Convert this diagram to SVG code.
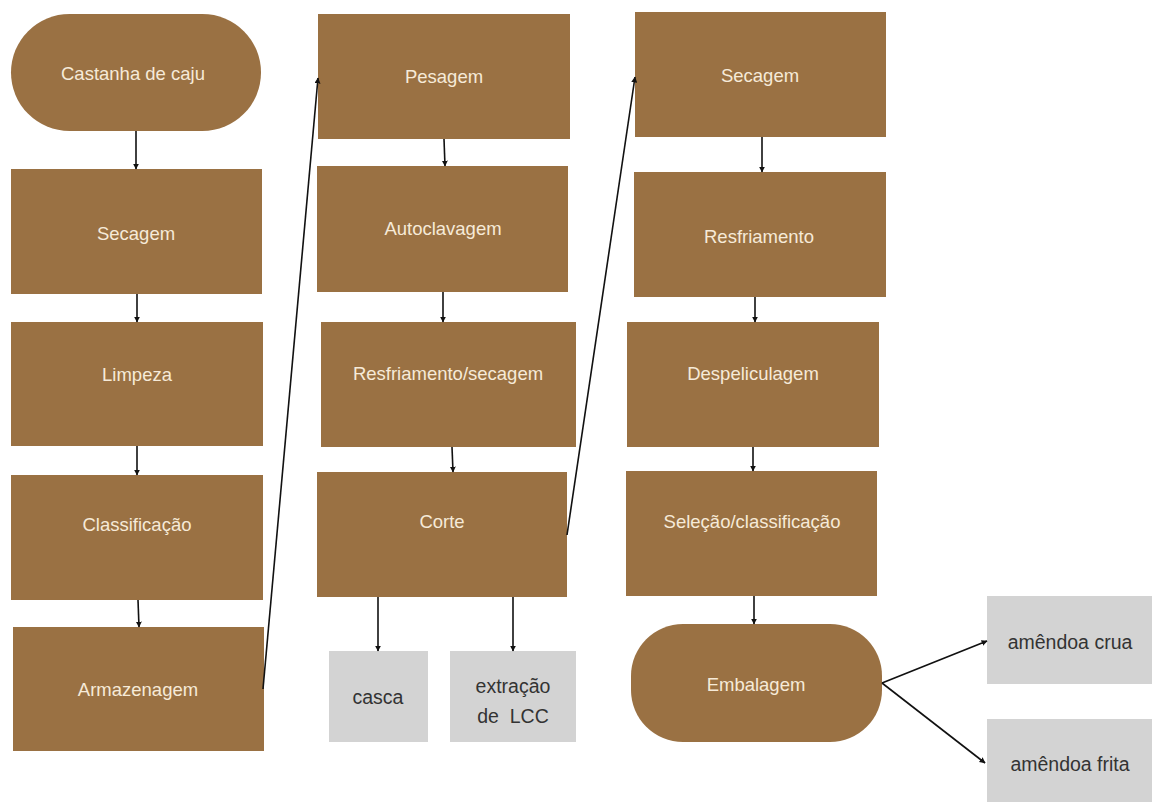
<svg xmlns="http://www.w3.org/2000/svg" width="1152" height="802" viewBox="0 0 1152 802">
<defs>
<marker id="ah" viewBox="0 0 10 10" refX="9" refY="5" markerWidth="6" markerHeight="6" orient="auto" markerUnits="userSpaceOnUse"><path d="M0,0 L10,5 L0,10 z" fill="#111"/></marker>
<style>
.b{fill:#9a7143}
.g{fill:#d3d3d3}
.t{font-family:"Liberation Sans",Arial,sans-serif;font-size:18.5px;fill:#f6ead8;text-anchor:middle;dominant-baseline:central}
.d{font-family:"Liberation Sans",Arial,sans-serif;font-size:19.5px;fill:#333;text-anchor:middle;dominant-baseline:central}
.c{stroke:#111;stroke-width:1.6;fill:none;marker-end:url(#ah)}
</style>
</defs>
<rect width="1152" height="802" fill="#fff"/>
<g id="n1"><rect class="b" x="11" y="14" width="250" height="117" rx="58.5"/><text class="t" x="133" y="73">Castanha de caju</text></g>
<g id="n2"><rect class="b" x="11" y="169" width="251" height="125"/><text class="t" x="136" y="233">Secagem</text></g>
<g id="n3"><rect class="b" x="11" y="322" width="252" height="124"/><text class="t" x="137" y="374">Limpeza</text></g>
<g id="n4"><rect class="b" x="11" y="475" width="252" height="125"/><text class="t" x="137" y="524">Classificação</text></g>
<g id="n5"><rect class="b" x="13" y="627" width="251" height="124"/><text class="t" x="138" y="689">Armazenagem</text></g>
<g id="n6"><rect class="b" x="318" y="14" width="252" height="125"/><text class="t" x="444" y="76">Pesagem</text></g>
<g id="n7"><rect class="b" x="317" y="166" width="251" height="126"/><text class="t" x="443" y="228">Autoclavagem</text></g>
<g id="n8"><rect class="b" x="321" y="322" width="255" height="125"/><text class="t" x="448" y="373">Resfriamento/secagem</text></g>
<g id="n9"><rect class="b" x="317" y="472" width="250" height="125"/><text class="t" x="442" y="521">Corte</text></g>
<g id="n10"><rect class="g" x="329" y="651" width="99" height="91"/><text class="d" x="378" y="697">casca</text></g>
<g id="n11"><rect class="g" x="450" y="651" width="126" height="91"/><text class="d" x="513" y="686">extração</text><text class="d" x="513" y="716">de&#160; LCC</text></g>
<g id="n12"><rect class="b" x="635" y="12" width="251" height="125"/><text class="t" x="760" y="75">Secagem</text></g>
<g id="n13"><rect class="b" x="634" y="172" width="252" height="125"/><text class="t" x="759" y="236">Resfriamento</text></g>
<g id="n14"><rect class="b" x="627" y="322" width="252" height="125"/><text class="t" x="753" y="373">Despeliculagem</text></g>
<g id="n15"><rect class="b" x="626" y="471" width="251" height="125"/><text class="t" x="752" y="521">Seleção/classificação</text></g>
<g id="n16"><rect class="b" x="631" y="624" width="251" height="118" rx="52"/><text class="t" x="756" y="684">Embalagem</text></g>
<g id="n17"><rect class="g" x="987" y="596" width="165" height="88"/><text class="d" x="1070" y="642">amêndoa crua</text></g>
<g id="n18"><rect class="g" x="987" y="719" width="165" height="83"/><text class="d" x="1070" y="764">amêndoa frita</text></g>
<g id="connectors">
<line class="c" x1="136" y1="131" x2="136" y2="169"/>
<line class="c" x1="137" y1="294" x2="137" y2="322"/>
<line class="c" x1="137" y1="446" x2="137" y2="475"/>
<line class="c" x1="138" y1="600" x2="139" y2="627"/>
<line class="c" x1="263" y1="689" x2="318" y2="78"/>
<line class="c" x1="444" y1="139" x2="445" y2="166"/>
<line class="c" x1="443" y1="292" x2="443" y2="322"/>
<line class="c" x1="452" y1="447" x2="453" y2="472"/>
<line class="c" x1="378" y1="597" x2="378" y2="651"/>
<line class="c" x1="513" y1="597" x2="513" y2="651"/>
<line class="c" x1="567" y1="535" x2="635" y2="77"/>
<line class="c" x1="762" y1="137" x2="762" y2="172"/>
<line class="c" x1="755" y1="297" x2="755" y2="322"/>
<line class="c" x1="753" y1="447" x2="753" y2="471"/>
<line class="c" x1="754" y1="596" x2="754" y2="624"/>
<line class="c" x1="882" y1="683" x2="987" y2="641"/>
<line class="c" x1="882" y1="683" x2="985" y2="763"/>
</g>
</svg>
